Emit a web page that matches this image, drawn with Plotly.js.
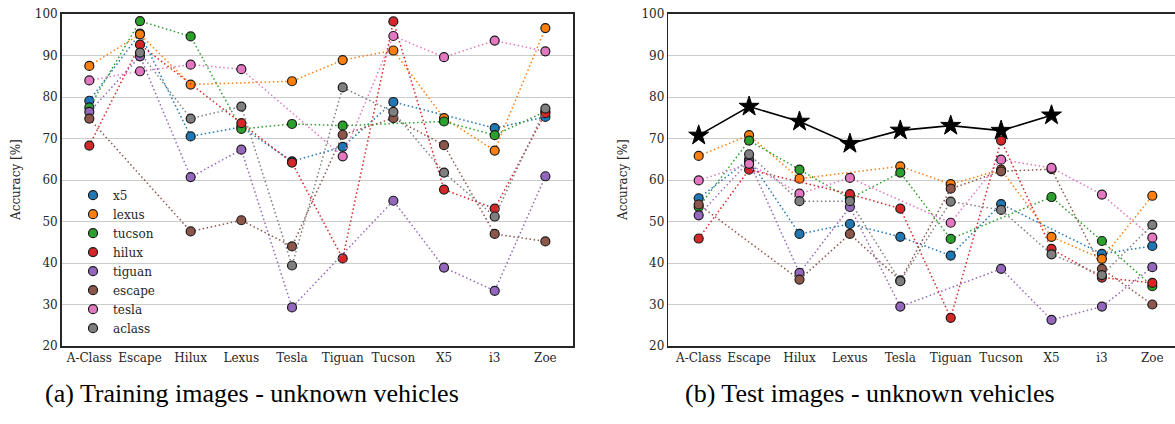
<!DOCTYPE html>
<html>
<head>
<meta charset="utf-8">
<script src="https://cdn.plot.ly/plotly-3.0.1.min.js"></script>
<style>html,body{margin:0;padding:0;background:#fff;}#chart{width:1175px;height:424px;}</style>
</head>
<body>
<div id="chart"></div>
<script>
// Categories (x axis)
const categories = ["A-Class","Escape","Hilux","Lexus","Tesla","Tiguan","Tucson","X5","i3","Zoe"];
const seriesNames = ["x5","lexus","tucson","hilux","tiguan","escape","tesla","aclass"];
const colors = ["#1f77b4","#ff7f0e","#2ca02c","#d62728","#9467bd","#8c564b","#e377c2","#7f7f7f"];

// (a) Training images - unknown vehicles
const trainX5     = [79.1, 95.3, 70.5, 72.8, 64.5, 68.0, 78.8, null, 72.5, 75.2];
const trainLexus  = [87.5, 95.1, 83.0, null, 83.8, 88.9, 91.2, 74.9, 67.1, 96.6];
const trainTucson = [77.5, 98.3, 94.6, 72.3, 73.5, 73.1, null, 74.1, 70.8, 76.5];
const trainHilux  = [68.3, 92.6, null, 73.7, 64.2, 41.1, 98.2, 57.7, 53.1, 76.1];
const trainTiguan = [76.4, 89.8, 60.7, 67.3, 29.3, null, 55.0, 38.9, 33.3, 60.9];
const trainEscape = [74.8, null, 47.6, 50.3, 44.0, 70.9, 74.9, 68.4, 47.0, 45.2];
const trainTesla  = [84.0, 86.2, 87.8, 86.7, null, 65.7, 94.7, 89.6, 93.6, 91.0];
const trainAclass = [null, 90.7, 74.8, 77.7, 39.4, 82.3, 76.4, 61.8, 51.2, 77.2];

// (b) Test images - unknown vehicles
const testX5     = [55.6, 65.0, 47.0, 49.4, 46.3, 41.8, 54.2, null, 42.2, 44.1];
const testLexus  = [65.8, 70.8, 60.3, null, 63.3, 59.0, 62.5, 46.3, 41.0, 56.2];
const testTucson = [53.5, 69.5, 62.5, 55.5, 61.8, 45.8, null, 55.9, 45.3, 34.4];
const testHilux  = [45.9, 62.5, null, 56.6, 53.1, 26.8, 69.5, 43.4, 36.5, 35.2];
const testTiguan = [51.5, 64.5, 37.6, 53.5, 29.5, null, 38.6, 26.3, 29.5, 39.0];
const testEscape = [54.1, null, 36.0, 47.0, 35.8, 57.9, 62.1, 62.6, 38.6, 30.0];
const testTesla  = [59.9, 63.9, 56.7, 60.5, null, 49.7, 64.9, 62.9, 56.5, 46.1];
const testAclass = [null, 66.2, 54.9, 54.9, 35.6, 54.8, 52.8, 42.1, 37.1, 49.2];
const testStar   = [70.75, 77.7, 74.1, 68.75, 71.95, 73.1, 71.9, 75.6, null, null];

const trainSeries = [trainX5, trainLexus, trainTucson, trainHilux, trainTiguan, trainEscape, trainTesla, trainAclass];
const testSeries  = [testX5, testLexus, testTucson, testHilux, testTiguan, testEscape, testTesla, testAclass];

const FONT = "'DejaVu Serif', 'Liberation Serif', serif";
const CAPFONT = "'Liberation Serif', 'Times New Roman', serif";
const TXT = "#262626";
const traces = [];

function addSeries(vals, i, xa, ya) {
  traces.push({
    type: "scatter", mode: "lines+markers",
    x: categories, y: vals, xaxis: xa, yaxis: ya,
    connectgaps: true, showlegend: false, name: seriesNames[i],
    line: {color: colors[i], width: 1.5, dash: "1.5px,2.6px"},
    marker: {color: colors[i], size: 9, line: {color: "#1a1a1a", width: 1.2}}
  });
}
trainSeries.forEach((v, i) => addSeries(v, i, "x", "y"));
testSeries.forEach((v, i) => addSeries(v, i, "x2", "y2"));

traces.push({
  type: "scatter", mode: "lines+markers",
  x: categories, y: testStar, xaxis: "x2", yaxis: "y2",
  showlegend: false, connectgaps: false,
  line: {color: "#000000", width: 1.6},
  marker: {symbol: "star", color: "#000000", size: 15, line: {color: "#000000", width: 1}}
});

// legend-only entries (markers only)
seriesNames.forEach((n, i) => {
  traces.push({
    type: "scatter", mode: "markers", name: n,
    x: [categories[0]], y: [null], xaxis: "x", yaxis: "y",
    marker: {color: colors[i], size: 9, line: {color: "#1a1a1a", width: 1.2}}
  });
});

const axX = {
  type: "category", categoryorder: "array", categoryarray: categories,
  showgrid: false, zeroline: false, showline: true, mirror: true,
  linecolor: TXT, linewidth: 1.6, ticks: "",
  tickfont: {family: FONT, size: 12, color: TXT}
};
const axY = {
  range: [20, 100], tick0: 20, dtick: 10,
  showgrid: true, gridcolor: "#cccccc", gridwidth: 1, zeroline: false,
  showline: true, mirror: true, linecolor: TXT, linewidth: 1.6, ticks: "",
  tickfont: {family: FONT, size: 12, color: TXT}
};

const W = 1175;
const layout = {
  width: 1175, height: 424,
  margin: {l: 0, r: 0, t: 14, b: 78},
  paper_bgcolor: "#ffffff", plot_bgcolor: "#ffffff",
  font: {family: FONT, color: TXT},
  xaxis: Object.assign({}, axX, {domain: [61.7 / W, 573 / W], range: [-0.545, 9.545], anchor: "y"}),
  yaxis: Object.assign({}, axY, {anchor: "x"}),
  xaxis2: Object.assign({}, axX, {domain: [668.3 / W, 1], range: [-0.603, 9.45], anchor: "y2"}),
  yaxis2: Object.assign({}, axY, {anchor: "x2"}),
  showlegend: true,
  legend: {
    x: 73 / W, xanchor: "left", y: 0.498, yanchor: "top",
    bgcolor: "rgba(0,0,0,0)", borderwidth: 0, tracegroupgap: 0,
    font: {family: FONT, size: 12, color: TXT}
  },
  annotations: [
    {text: "Accuracy [%]", xref: "paper", yref: "paper", x: 16 / W, y: 0.5, xanchor: "center", yanchor: "middle",
     textangle: -90, showarrow: false, font: {family: FONT, size: 12, color: TXT}},
    {text: "Accuracy [%]", xref: "paper", yref: "paper", x: 623 / W, y: 0.5, xanchor: "center", yanchor: "middle",
     textangle: -90, showarrow: false, font: {family: FONT, size: 12, color: TXT}},
    {text: "(a) Training images - unknown vehicles", xref: "paper", yref: "paper",
     x: 252 / W, y: (346 - 393) / 332, xanchor: "center", yanchor: "middle", showarrow: false,
     font: {family: CAPFONT, size: 26, color: "#000000"}},
    {text: "(b) Test images - unknown vehicles", xref: "paper", yref: "paper",
     x: 870 / W, y: (346 - 393) / 332, xanchor: "center", yanchor: "middle", showarrow: false,
     font: {family: CAPFONT, size: 26, color: "#000000"}}
  ]
};

Plotly.newPlot("chart", traces, layout, {displayModeBar: false, staticPlot: true});
</script>
</body>
</html>
